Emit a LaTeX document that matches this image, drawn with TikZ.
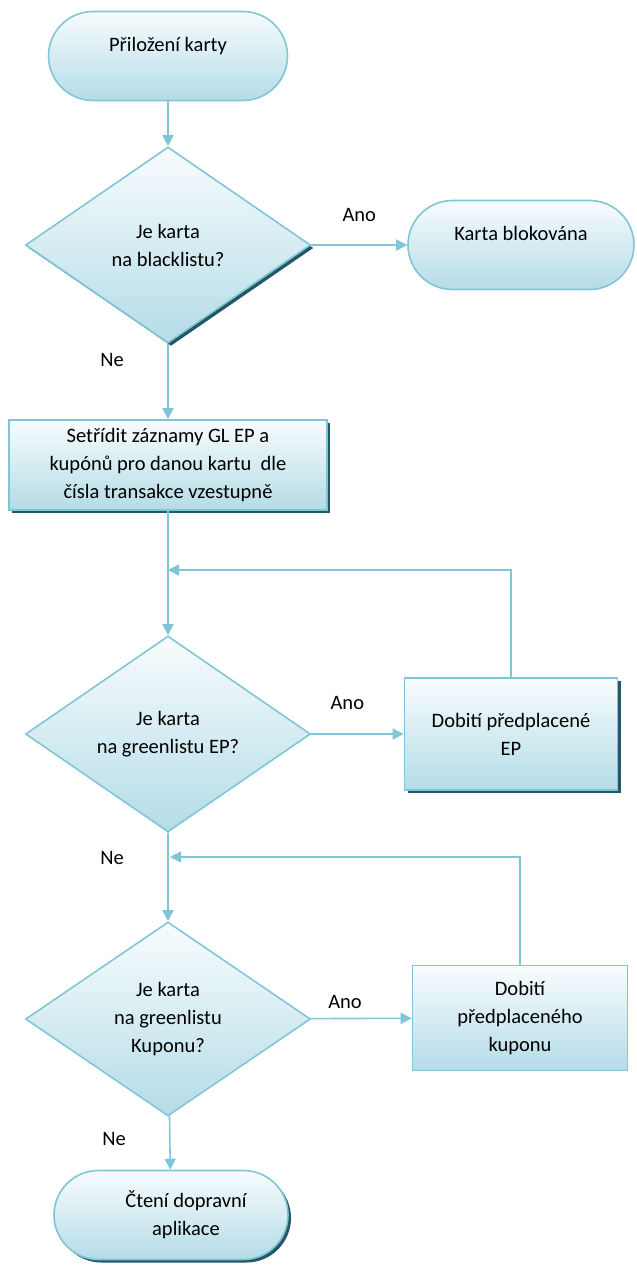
\documentclass[tikz,border=0pt]{standalone}
\usepackage{fontspec}
\setmainfont{Carlito}
\usetikzlibrary{arrows.meta}
\usetikzlibrary{shapes.geometric}
\usetikzlibrary{shapes.misc}
\usetikzlibrary{shadows}
\usetikzlibrary{positioning}
\definecolor{flow blue}{RGB}{128,198,214}
\definecolor{flow light}{RGB}{248,252,253}
\definecolor{flow fill}{RGB}{180,220,231}
\definecolor{flow shadow}{RGB}{36,88,102}

\begin{document}
\begin{tikzpicture}[x=1pt, y=-1pt,
					flow shape/.style={draw=flow blue, line width=1.6pt, top color=flow light, bottom color=flow fill, font=\fontsize{20.5}{28}\selectfont, align=center, inner sep=2pt},
					shadowed/.style={drop shadow={shadow xshift=3pt, shadow yshift=-3pt, fill=flow shadow, opacity=1}},
					terminal/.style={flow shape, rounded rectangle, minimum width=#1, minimum height=89pt},
					process/.style={flow shape, rectangle, minimum width=#1},
					decision/.style={flow shape, diamond, minimum width=285pt, minimum height=196pt, inner sep=0pt},
					top text/.style={text depth=24pt},
					flow line/.style={draw=flow blue, line width=1.6pt, -{Triangle[length=11pt,width=11pt]}},
					answer/.style={font=\fontsize{20.5}{24}\selectfont},
				]
					\useasboundingbox (0,0) rectangle (637,1267);

					\node[terminal=243pt, top text] (start) at (168,56) {Přiložení karty};
					\node[decision, shadowed] (blk q) at (168,245) {Je karta\\na blacklistu?};
					\node[terminal=230pt, top text] (blocked) at (521,245) {Karta blokována};
					\node[process=318pt, minimum height=90pt, shadowed] (sort) at (168,465) {Setřídit záznamy GL EP a\\kupónů pro danou kartu\ \ dle\\čísla transakce vzestupně};
					\node[decision] (ep q) at (168,734) {Je karta\\na greenlistu EP?};
					\node[process=213pt, minimum height=112pt, shadowed] (ep) at (511,734) {Dobití předplacené\\EP};
					\node[decision, minimum height=194pt] (kup q) at (168,1019) {Je karta\\na greenlistu\\Kuponu?};
					\node[process=215pt, minimum height=105pt] (kup) at (520,1018) {Dobití\\předplaceného\\kuponu};
					\node[terminal=238pt, shadowed] (read) at (171,1215) {\hspace*{30pt}Čtení dopravní\\\hspace*{30pt}aplikace};

					\coordinate (ep back) at (168,570);
					\coordinate (kup back) at (170,857);

					\draw[flow line] (start) -- (blk q);
					\draw[flow line] (blk q) -- node[answer, above=19pt] {Ano} (blocked);
					\draw[flow line] (blk q) -- node[answer, pos=0.22, left=40pt] {Ne} (sort);
					\draw[flow line] (sort) -- (ep q);
					\draw[flow line] (ep) |- (ep back);
					\draw[flow line] (ep q) -- node[answer, pos=0.39, above=20pt] {Ano} (ep);
					\draw[flow line] (ep q) -- node[answer, pos=0.29, left=40pt] {Ne} (kup q);
					\draw[flow line] (kup) |- (kup back);
					\draw[flow line] (kup q) -- node[answer, pos=0.34, above=6pt] {Ano} (kup);
					\draw[flow line] (kup q) -- node[answer, pos=0.43, left=40pt] {Ne} (read);
				\end{tikzpicture}
\end{document}
